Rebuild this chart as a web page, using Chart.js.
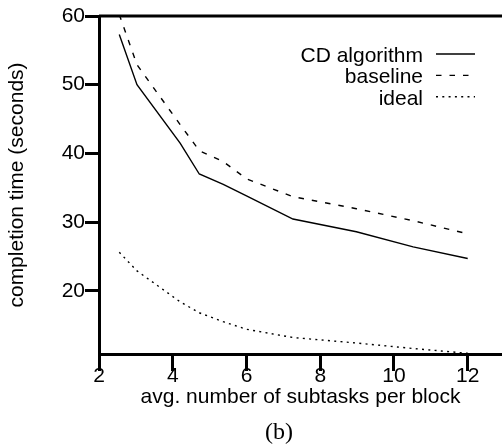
<!DOCTYPE html>
<html>
<head>
<meta charset="utf-8">
<script src="https://cdn.jsdelivr.net/npm/chart.js@4"></script>
<style>
  body { margin: 0; background: #fff; }
  #wrap { position: relative; width: 502px; height: 447px; }
  #cap { position: absolute; left: 279px; top: 419px; transform: translateX(-50%);
         font: 24px "Liberation Serif", serif; line-height: 1; color: #000; }
</style>
</head>
<body>
<div id="wrap">
  <canvas id="chart" width="502" height="447"></canvas>
  <div id="cap">(b)</div>
</div>
<script>
// values
const subtasks = [2.55, 3.03, 4.2, 4.72, 5.37, 6.0, 7.26, 8.98, 10.52, 12];
const cdTimes = [57.3, 50.0, 41.5, 37.0, 35.5, 33.8, 30.45, 28.6, 26.4, 24.7];
const baselineTimes = [60.2, 52.9, 44.2, 40.4, 38.8, 36.3, 33.7, 31.95, 30.2, 28.3];
const idealTimes = [25.6, 22.9, 18.4, 16.8, 15.5, 14.4, 13.2, 12.4, 11.6, 10.9];
const seriesNames = ['CD algorithm', 'baseline', 'ideal'];
const xTicks = [2, 4, 6, 8, 10, 12];
const yTicks = [20, 30, 40, 50, 60];

const FONT = 'Liberation Sans';
const pts = ys => subtasks.map((x, i) => ({ x: x, y: ys[i] }));

// top frame line
const frameTop = {
  id: 'frameTop',
  afterDatasetsDraw(chart) {
    const { ctx, chartArea } = chart;
    ctx.save();
    ctx.strokeStyle = '#000';
    ctx.lineWidth = 3;
    ctx.beginPath();
    ctx.moveTo(chartArea.left, chartArea.top);
    ctx.lineTo(chartArea.right, chartArea.top);
    ctx.stroke();
    ctx.restore();
  }
};

// legend: right aligned text, line sample on the right
const sideLegend = {
  id: 'sideLegend',
  afterDraw(chart) {
    const ctx = chart.ctx;
    ctx.save();
    ctx.font = '21px "' + FONT + '"';
    ctx.fillStyle = '#000';
    ctx.textAlign = 'right';
    ctx.textBaseline = 'alphabetic';
    chart.data.datasets.forEach((ds, i) => {
      const y = 54 + i * 21.4;
      ctx.fillText(ds.label, 423, y + 7.8);
      ctx.beginPath();
      ctx.setLineDash(ds.borderDash || []);
      ctx.lineWidth = ds.borderWidth;
      ctx.strokeStyle = ds.borderColor;
      ctx.moveTo(436, y);
      ctx.lineTo(475, y);
      ctx.stroke();
    });
    ctx.restore();
  }
};

const axisGrid = { display: true, drawOnChartArea: false, drawTicks: true, tickWidth: 3, tickColor: '#000', lineWidth: 3, color: '#000' };

new Chart(document.getElementById('chart'), {
  type: 'line',
  data: {
    datasets: [
      { label: seriesNames[0], data: pts(cdTimes), borderColor: '#000', borderWidth: 1.4, borderDash: [] },
      { label: seriesNames[1], data: pts(baselineTimes), borderColor: '#000', borderWidth: 1.4, borderDash: [5.5, 8] },
      { label: seriesNames[2], data: pts(idealTimes), borderColor: '#000', borderWidth: 1.4, borderDash: [2, 4.3] }
    ]
  },
  options: {
    responsive: false,
    animation: false,
    layout: { padding: { top: 16, left: 0, right: 0, bottom: 0 } },
    elements: { point: { radius: 0 }, line: { tension: 0, fill: false } },
    plugins: { legend: { display: false }, tooltip: { enabled: false } },
    scales: {
      x: {
        type: 'linear', min: 2, max: 12.93,
        afterBuildTicks: s => { s.ticks = xTicks.map(v => ({ value: v })); },
        afterFit: s => { s.height = 93; },
        border: { color: '#000', width: 3 },
        grid: Object.assign({}, axisGrid, { tickLength: 17 }),
        ticks: { color: '#000', font: { family: FONT, size: 21 }, padding: -7, maxRotation: 0 },
        title: { display: true, text: 'avg. number of subtasks per block', color: '#000',
                 font: { family: FONT, size: 21 }, padding: { top: 0, bottom: 37 } }
      },
      y: {
        type: 'linear', min: 10.8, max: 60,
        afterBuildTicks: s => { s.ticks = yTicks.map(v => ({ value: v })); },
        afterFit: s => { s.width = 99; },
        border: { color: '#000', width: 3 },
        grid: Object.assign({}, axisGrid, { tickLength: 14 }),
        ticks: { color: '#000', font: { family: FONT, size: 21 }, padding: 0 },
        title: { display: true, text: 'completion time (seconds)', color: '#000',
                 font: { family: FONT, size: 21 }, padding: { top: 5, bottom: 0 } }
      }
    }
  },
  plugins: [frameTop, sideLegend]
});
</script>
</body>
</html>
